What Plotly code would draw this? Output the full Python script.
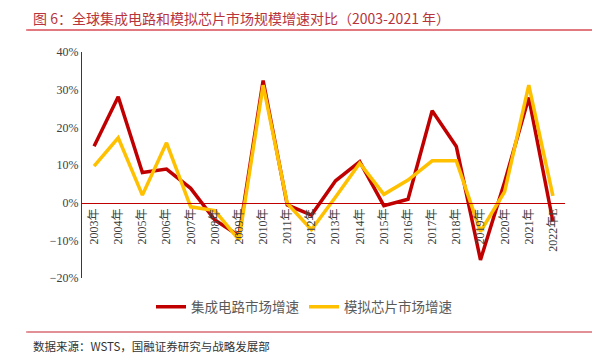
import plotly.graph_objects as go

years = ["2003年", "2004年", "2005年", "2006年", "2007年", "2008年", "2009年", "2010年",
         "2011年", "2012年", "2013年", "2014年", "2015年", "2016年", "2017年", "2018年",
         "2019年", "2020年", "2021年", "2022年E"]
ic_growth = [15.0, 28.1, 8.0, 8.9, 3.8, -4.6, -8.8, 32.4, -0.6, -3.3, 5.8, 10.9,
             -0.8, 0.9, 24.4, 14.9, -15.2, 5.5, 27.9, -5.0]
analog_growth = [9.7, 17.2, 2.0, 15.9, -1.1, -2.1, -9.9, 31.2, -0.2, -7.2, 1.5, 10.5,
                 2.2, 6.0, 11.1, 11.1, -7.7, 2.9, 31.2, 1.8]

series_names = ["集成电路市场增速", "模拟芯片市场增速"]
title_text = "图 6：全球集成电路和模拟芯片市场规模增速对比（2003-2021 年）"
source_text = "数据来源：WSTS，国融证券研究与战略发展部"

FONT = "Liberation Serif, Noto Sans CJK SC, serif"
RED = "#C00000"
YELLOW = "#FFC000"

fig = go.Figure()
fig.add_trace(go.Scatter(x=years, y=ic_growth, mode="lines", name=series_names[0],
                         line=dict(color=RED, width=3.5)))
fig.add_trace(go.Scatter(x=years, y=analog_growth, mode="lines", name=series_names[1],
                         line=dict(color=YELLOW, width=3.5)))

# the page body has an 8px margin; work in screen pixels and offset
OFF = 8
SW, SH = 609, 360
W, H = SW - OFF, SH - OFF
L, T = 82 - OFF, 52 - OFF
R = W - (565 - OFF)
B = H - (278 - OFF)
pw, ph = W - L - R, H - T - B

def px(x):
    return (x - OFF - L) / pw

def py(y):
    return (H - B - (y - OFF)) / ph

fig.update_layout(
    width=W, height=H,
    margin=dict(l=L, r=R, t=T, b=B, autoexpand=False),
    paper_bgcolor="white", plot_bgcolor="white",
    font=dict(family=FONT, color="#404040", size=12),
    showlegend=True,
    legend=dict(orientation="h", x=px(151), xanchor="left", y=py(307), yanchor="middle",
                font=dict(size=13.5, color="#595959", family="Noto Sans CJK SC"),
                itemwidth=30, traceorder="normal", bgcolor="rgba(0,0,0,0)"),
    title=dict(text=title_text, xref="container", yref="container",
               x=(33 - OFF) / W, xanchor="left", y=1 - (19 - OFF) / H, yanchor="middle",
               font=dict(size=14, color="#B8333A", family="Noto Sans CJK SC")),
    xaxis=dict(type="category", categoryorder="array", categoryarray=years,
               range=[-0.5, len(years) - 0.5],
               anchor="free", position=(0 - (-20)) / 60,
               showline=True, linecolor=RED, linewidth=1,
               showgrid=False, zeroline=False, ticks="",
               tickangle=-90, tickfont=dict(size=12, color="#404040")),
    yaxis=dict(range=[-20, 40], dtick=10, ticksuffix="%",
               showline=True, linecolor=RED, linewidth=1.2,
               showgrid=False, zeroline=False, ticks="",
               tickfont=dict(size=12, color="#404040")),
)

# horizontal rules under the title and above the source note
RULE_X0, RULE_X1 = 26, 592
for yy, col in ((30, "#E07078"), (332, "#E0898E")):
    fig.add_shape(type="line", xref="paper", yref="paper",
                  x0=px(RULE_X0), x1=px(RULE_X1), y0=py(yy), y1=py(yy),
                  line=dict(color=col, width=1.5), layer="above")
    fig.add_annotation(text="", xref="paper", yref="paper",
                       x=px(RULE_X1), y=py(yy), ax=-(RULE_X1 - RULE_X0), ay=0,
                       showarrow=True, arrowhead=0, arrowwidth=1.5, arrowcolor=col,
                       standoff=0, startstandoff=0)

fig.add_annotation(text=source_text, xref="paper", yref="paper", x=px(31), y=py(346),
                   xanchor="left", yanchor="middle", showarrow=False,
                   font=dict(size=11.5, color="#333333", family="Noto Sans CJK SC"))

fig.write_html("out.html", config={"displayModeBar": False})
